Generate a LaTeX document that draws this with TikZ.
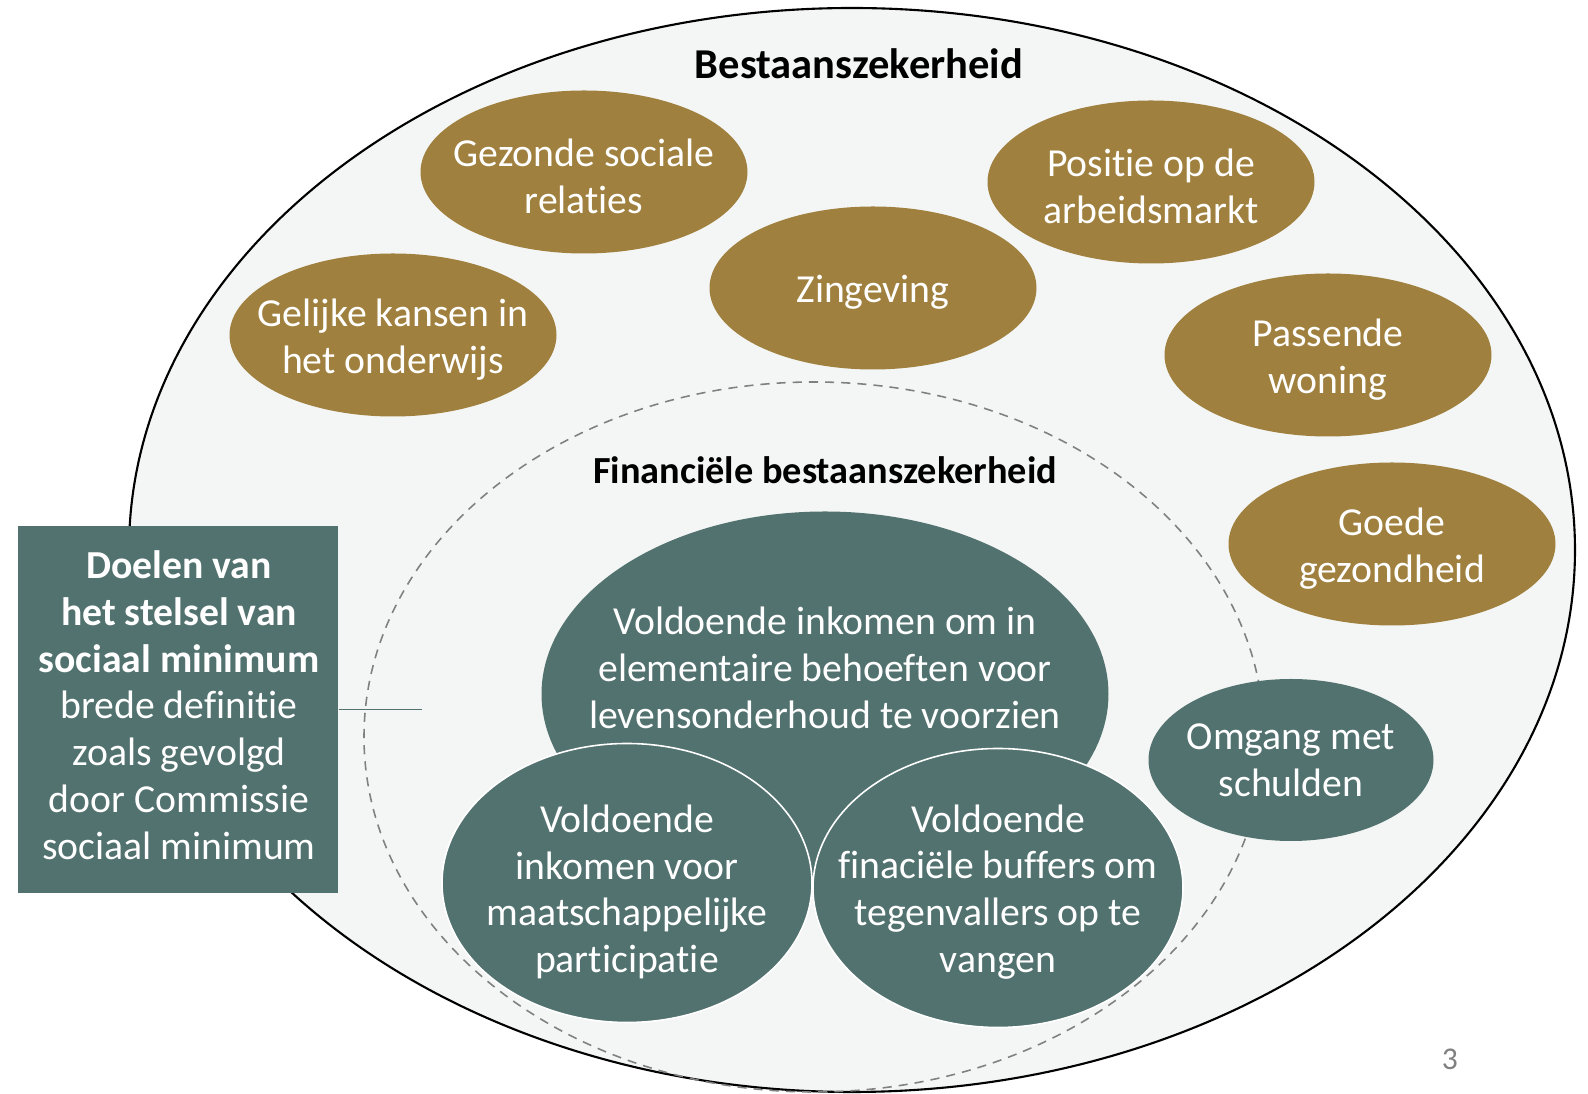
\documentclass[tikz,border=0pt]{standalone}
\usepackage{fontspec}
\setmainfont{Carlito}[Ligatures=NoCommon]
\usetikzlibrary{shapes.geometric}

\definecolor{goud}{HTML}{A0803E}
\definecolor{petrol}{HTML}{52726F}
\definecolor{achtergrond}{HTML}{F4F6F5}

\tikzset{
  goudbol/.style={ellipse, fill=goud, inner sep=0pt, minimum width=32.7mm, minimum height=16.3mm},
  petrolbol/.style={ellipse, fill=petrol, inner sep=0pt},
  tekst/.style={text=white, align=center, inner sep=0pt, font=\fontsize{11.3}{13.3}\selectfont},
  goudtekst/.style={tekst, yshift=-0.45mm},
  kop/.style={inner sep=0pt, font=\bfseries\fontsize{12.1}{14}\selectfont},
}

\begin{document}
\begin{tikzpicture}[x=0.1mm,y=-0.1mm]
\useasboundingbox (0,0) rectangle (1588,1094);

% outer and inner field
\node[ellipse, draw, line width=0.6pt, fill=achtergrond, inner sep=0pt, minimum width=144.6mm, minimum height=108.4mm] (bestaan) at (852,550) {};
\node[ellipse, draw=gray, line width=0.45pt, dash pattern=on 2.6pt off 2pt, inner sep=0pt, minimum width=90mm, minimum height=71mm] (financieel) at (814,737) {};

\node[kop] (bestaantitel) at (859,64) {Bestaanszekerheid};
\node[kop, font=\bfseries\fontsize{10.9}{13}\selectfont] (financieeltitel) at (825,470) {Financiële bestaanszekerheid};

% gold themes
\node[goudbol] (relaties) at (584,172) {};
\node[goudtekst] (relatiestxt) at (relaties) {Gezonde sociale\\relaties};
\node[goudbol] (kansen) at (393,335) {};
\node[goudtekst] (kansentxt) at (kansen) {Gelijke kansen in\\het onderwijs};
\node[goudbol] (zingeving) at (873,288) {};
\node[goudtekst] (zingevingtxt) at (zingeving) {Zingeving};
\node[goudbol] (arbeid) at (1151,182) {};
\node[goudtekst] (arbeidtxt) at (arbeid) {Positie op de\\arbeidsmarkt};
\node[goudbol] (woning) at (1328,355) {};
\node[goudtekst] (woningtxt) at (woning) {Passende\\woning};
\node[goudbol] (gezondheid) at (1392,544) {};
\node[goudtekst] (gezondheidtxt) at (gezondheid) {Goede\\gezondheid};

% financial themes
\node[petrolbol, minimum width=56.7mm, minimum height=36.5mm] (levens) at (825,694) {};
\node[tekst] (levenstxt) at (825,668) {Voldoende inkomen om in\\elementaire behoeften voor\\levensonderhoud te voorzien};
\node[petrolbol, draw=white, line width=0.45pt, minimum width=37mm, minimum height=27.9mm] (participatie) at (627,883) {};
\node[tekst] (participatietxt) at (627,892) {Voldoende\\inkomen voor\\maatschappelijke\\participatie};
\node[petrolbol, draw=white, line width=0.45pt, minimum width=37mm, minimum height=27.9mm] (buffers) at (998,888) {};
\node[tekst] (bufferstxt) at (998,892) {Voldoende\\finaciële buffers om\\tegenvallers op te\\vangen};
\node[petrolbol, minimum width=28.5mm, minimum height=16.2mm] (schulden) at (1291,760) {};
\node[tekst] (schuldentxt) at (schulden) {Omgang met\\schulden};

% goals box
\node[fill=petrol, inner sep=0pt, minimum width=32mm, minimum height=36.7mm] (doelen) at (178,709.5) {};
\node[tekst] (doelentxt) at (179,705) {\textbf{Doelen van}\\\textbf{het stelsel van}\\\textbf{sociaal minimum}\\brede definitie\\zoals gevolgd\\door Commissie\\sociaal minimum};
\coordinate (doeleneind) at (422,709.5);
\draw[petrol, line width=0.45pt] (doelen.east) -- (doeleneind);

\node[text=gray, inner sep=0pt, font=\fontsize{9}{10}\selectfont] (pagina) at (1450,1059) {3};

\end{tikzpicture}
\end{document}
